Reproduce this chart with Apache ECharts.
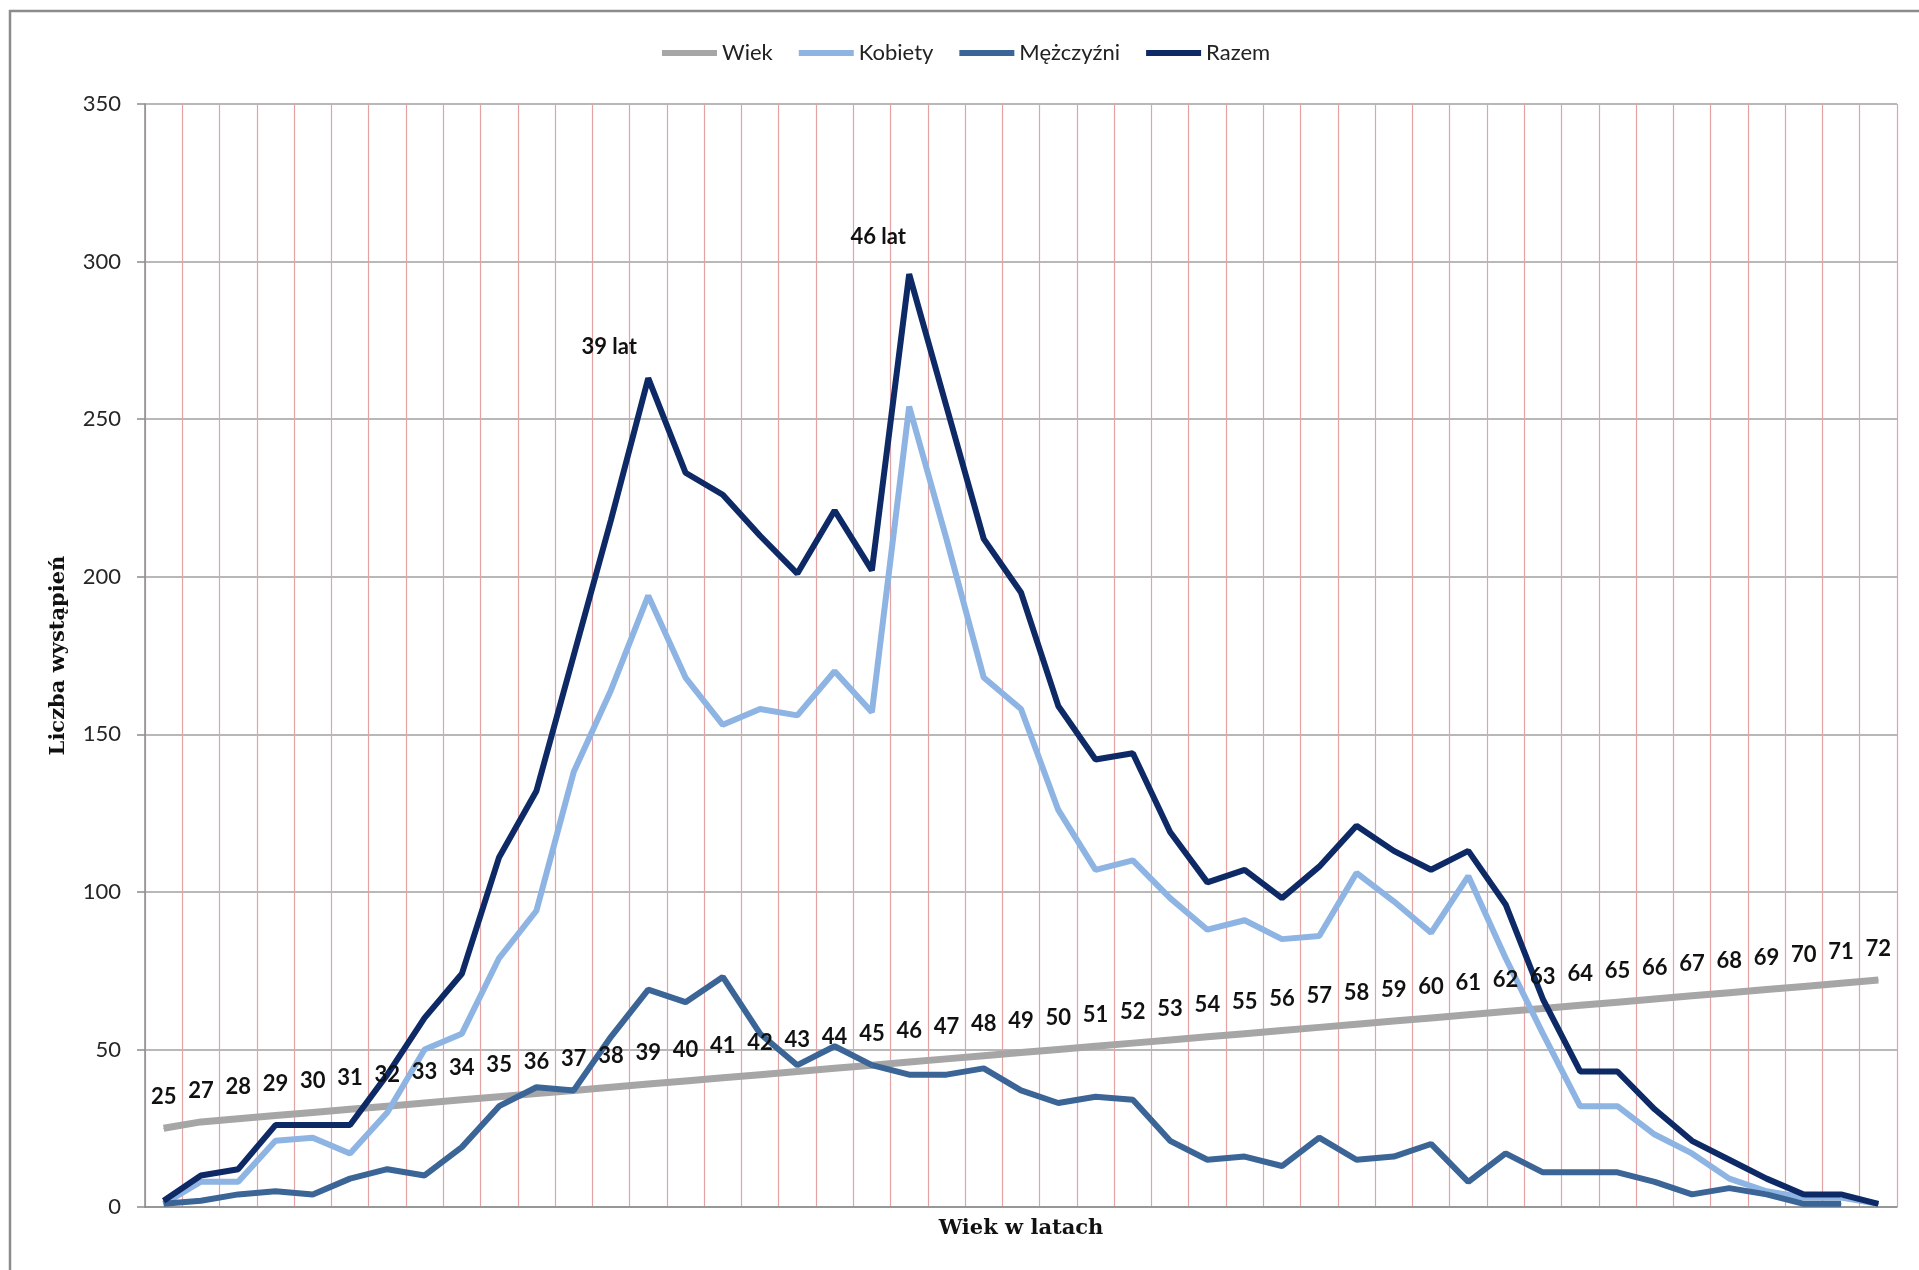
<!DOCTYPE html>
<html>
<head>
<meta charset="utf-8">
<script src="https://cdn.jsdelivr.net/npm/echarts@6/dist/echarts.min.js"></script>
<style>
  html, body { margin: 0; padding: 0; background: #fff; }
  #chart { width: 1919px; height: 1270px; }
</style>
</head>
<body>
<div id="chart"></div>
<script>
const ages = ['25', '27', '28', '29', '30', '31', '32', '33', '34', '35', '36', '37', '38', '39', '40', '41',
  '42', '43', '44', '45', '46', '47', '48', '49', '50', '51', '52', '53', '54', '55', '56', '57',
  '58', '59', '60', '61', '62', '63', '64', '65', '66', '67', '68', '69', '70', '71', '72']

const wiek = [25, 27, 28, 29, 30, 31, 32, 33, 34, 35, 36, 37, 38, 39, 40, 41,
  42, 43, 44, 45, 46, 47, 48, 49, 50, 51, 52, 53, 54, 55, 56, 57,
  58, 59, 60, 61, 62, 63, 64, 65, 66, 67, 68, 69, 70, 71, 72]

const kobiety = [1, 8, 8, 21, 22, 17, 30, 50, 55, 79, 94, 138, 164, 194, 168, 153,
  158, 156, 170, 157, 254, 212, 168, 158, 126, 107, 110, 98, 88, 91, 85, 86,
  106, 97, 87, 105, 79, 55, 32, 32, 23, 17, 9, 5, 3, 3, 1]

const mezczyzni = [1, 2, 4, 5, 4, 9, 12, 10, 19, 32, 38, 37, 54, 69, 65, 73,
  55, 45, 51, 45, 42, 42, 44, 37, 33, 35, 34, 21, 15, 16, 13, 22,
  15, 16, 20, 8, 17, 11, 11, 11, 8, 4, 6, 4, 1, 1, null]

const razem = [2, 10, 12, 26, 26, 26, 42, 60, 74, 111, 132, 175, 218, 263, 233, 226,
  213, 201, 221, 202, 296, 254, 212, 195, 159, 142, 144, 119, 103, 107, 98, 108,
  121, 113, 107, 113, 96, 66, 43, 43, 31, 21, 15, 9, 4, 4, 1]

// peaks annotated on the "Razem" line
const peakAges = ['39', '46']

const chart = echarts.init(document.getElementById('chart'))

const peakOffsets = { '39': [-39, -6], '46': [-31, -12] }

const razemData = razem.map((v, i) => {
  const age = ages[i]
  if (!peakAges.includes(age)) return v
  return {
    value: v,
    label: {
      show: true,
      position: 'top',
      distance: 14,
      offset: peakOffsets[age],
      formatter: p => p.name + ' lat',
      fontFamily: 'Lato',
      fontWeight: 'bold',
      fontSize: 22,
      color: '#111'
    }
  }
})

const lineSeries = (name, data, color, width) => ({
  name,
  type: 'line',
  data,
  symbol: 'circle',
  symbolSize: 1,
  showAllSymbol: true,
  itemStyle: { color },
  lineStyle: { color, width },
  emphasis: { disabled: true },
  silent: true
})

const option = {
  animation: false,
  backgroundColor: '#fff',
  textStyle: { fontFamily: 'Lato' },
  legend: {
    left: 657,
    top: 37,
    icon: 'rect',
    itemWidth: 55,
    itemHeight: 6,
    itemGap: 26,
    textStyle: { fontSize: 22, color: '#222', fontFamily: 'Lato' },
    data: ['Wiek', 'Kobiety', 'Mężczyźni', 'Razem']
  },
  grid: {
    left: 145,
    right: 22,
    top: 104,
    bottom: 63,
    containLabel: false
  },
  xAxis: {
    type: 'category',
    data: ages,
    boundaryGap: true,
    name: 'Wiek w latach',
    nameLocation: 'middle',
    nameGap: 11,
    nameTextStyle: { fontFamily: 'DejaVu Serif', fontWeight: 'bold', fontSize: 21, color: '#111' },
    axisLine: { lineStyle: { color: '#8c8c8c', width: 1.5 } },
    axisTick: { show: false },
    axisLabel: { show: false },
    splitLine: { show: true, lineStyle: { color: '#e3a3a3', width: 1.2 } }
  },
  yAxis: {
    type: 'value',
    min: 0,
    max: 350,
    interval: 50,
    name: 'Liczba wystąpień',
    nameLocation: 'middle',
    nameGap: 76,
    nameTextStyle: { fontFamily: 'DejaVu Serif', fontWeight: 'bold', fontSize: 21, color: '#111' },
    axisLine: { show: true, lineStyle: { color: '#8c8c8c', width: 1.5 } },
    axisTick: { show: true, length: 8, lineStyle: { color: '#8c8c8c', width: 1.5 } },
    axisLabel: { fontSize: 22, color: '#262626', margin: 24, fontFamily: 'Lato' },
    splitLine: { lineStyle: { color: '#a0a0a0', width: 1.5 } }
  },
  graphic: [
    {
      type: 'polyline',
      shape: { points: [[10, 1270], [10, 11], [1919, 11]] },
      style: { stroke: '#8c8c8c', lineWidth: 2.5, fill: null },
      silent: true
    }
  ],
  series: [
    {
      ...lineSeries('Wiek', wiek, '#a6a6a6', 7),
      label: {
        show: true,
        position: 'top',
        distance: 20,
        fontFamily: 'Lato',
        fontWeight: 'bold',
        fontSize: 22,
        color: '#111'
      }
    },
    lineSeries('Kobiety', kobiety, '#8db4e2', 6),
    lineSeries('Mężczyźni', mezczyzni, '#3a6596', 6),
    { ...lineSeries('Razem', razemData, '#0e2a66', 6), z: 3 }
  ]
}

chart.setOption(option)
window.addEventListener('resize', () => chart.resize())
</script>
</body>
</html>
